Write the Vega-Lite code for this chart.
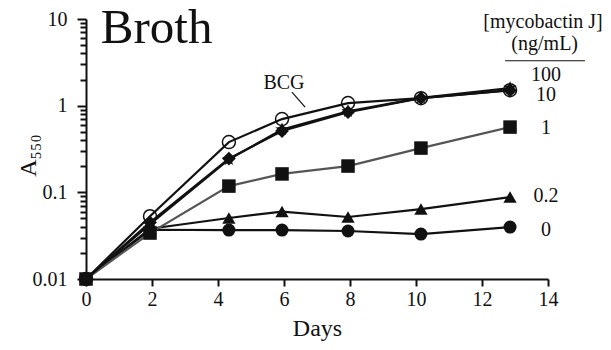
{
  "$schema": "https://vega.github.io/schema/vega-lite/v6.json",
  "width": 462,
  "height": 260,
  "autosize": "none",
  "padding": {"left": 86, "top": 19, "right": 63, "bottom": 71},
  "background": "white",
  "config": {"view": {"stroke": null}, "font": "Liberation Serif", "text": {"font": "Liberation Serif"}},
  "datasets": {
    "series": [
      {"series": "0", "day": 0, "value": 0.01},
      {"series": "0", "day": 1.94, "value": 0.037},
      {"series": "0", "day": 4.33, "value": 0.0367},
      {"series": "0", "day": 5.94, "value": 0.0367},
      {"series": "0", "day": 7.94, "value": 0.0358},
      {"series": "0", "day": 10.15, "value": 0.033},
      {"series": "0", "day": 12.85, "value": 0.0397},
      {"series": "0.2", "day": 0, "value": 0.01},
      {"series": "0.2", "day": 1.94, "value": 0.038},
      {"series": "0.2", "day": 4.33, "value": 0.0506},
      {"series": "0.2", "day": 5.94, "value": 0.06},
      {"series": "0.2", "day": 7.94, "value": 0.0519},
      {"series": "0.2", "day": 10.15, "value": 0.0641},
      {"series": "0.2", "day": 12.85, "value": 0.0883},
      {"series": "1", "day": 0, "value": 0.01},
      {"series": "1", "day": 1.94, "value": 0.0339},
      {"series": "1", "day": 4.33, "value": 0.118},
      {"series": "1", "day": 5.94, "value": 0.163},
      {"series": "1", "day": 7.94, "value": 0.201},
      {"series": "1", "day": 10.15, "value": 0.324},
      {"series": "1", "day": 12.85, "value": 0.566},
      {"series": "10", "day": 0, "value": 0.01},
      {"series": "10", "day": 1.94, "value": 0.045},
      {"series": "10", "day": 4.33, "value": 0.245},
      {"series": "10", "day": 5.94, "value": 0.51},
      {"series": "10", "day": 7.94, "value": 0.84},
      {"series": "10", "day": 10.15, "value": 1.22},
      {"series": "10", "day": 12.85, "value": 1.5},
      {"series": "100", "day": 0, "value": 0.01},
      {"series": "100", "day": 1.94, "value": 0.043},
      {"series": "100", "day": 4.33, "value": 0.24},
      {"series": "100", "day": 5.94, "value": 0.53},
      {"series": "100", "day": 7.94, "value": 0.86},
      {"series": "100", "day": 10.15, "value": 1.23},
      {"series": "100", "day": 12.85, "value": 1.6},
      {"series": "BCG", "day": 0, "value": 0.01},
      {"series": "BCG", "day": 1.94, "value": 0.053},
      {"series": "BCG", "day": 4.33, "value": 0.38},
      {"series": "BCG", "day": 5.94, "value": 0.7},
      {"series": "BCG", "day": 7.94, "value": 1.07},
      {"series": "BCG", "day": 10.15, "value": 1.22},
      {"series": "BCG", "day": 12.85, "value": 1.51}
    ],
    "labels": [
      {"x": 13.94, "y": 2.25, "text": "100"},
      {"x": 13.94, "y": 1.33, "text": "10"},
      {"x": 13.94, "y": 0.552, "text": "1"},
      {"x": 13.94, "y": 0.0906, "text": "0.2"},
      {"x": 13.94, "y": 0.0367, "text": "0"},
      {"x": 13.85, "y": 9.2, "text": "[mycobactin J]"},
      {"x": 13.9, "y": 5.13, "text": "(ng/mL)"},
      {"x": 6.0, "y": 1.82, "text": "BCG"}
    ],
    "title": [{"x": 0.45, "y": 5.27, "text": "Broth"}],
    "rules": [
      {"x": 12.7, "x2": 15.12, "y": 3.3, "y2": 3.3},
      {"x": 6.24, "x2": 6.64, "y": 1.43, "y2": 0.964}
    ]
  },
  "layer": [
    {
      "data": {"name": "series"},
      "mark": {"type": "line", "strokeWidth": 2.2},
      "encoding": {
        "x": {
          "field": "day", "type": "quantitative",
          "scale": {"domain": [0, 14], "nice": false, "zero": false},
          "axis": {
            "values": [0,1,2,3,4,5,6,7,8,9,10,11,12,13,14],
            "labelExpr": "datum.value % 2 == 0 ? datum.label : ''",
            "labelFlush": false,
            "grid": false,
            "tickSize": 7, "tickWidth": 2, "tickColor": "#111",
            "domainWidth": 2, "domainColor": "#111",
            "labelFont": "Liberation Serif", "labelFontSize": 20, "labelColor": "#111", "labelPadding": 3,
            "title": "Days", "titleFont": "Liberation Serif", "titleFontSize": 24, "titleFontWeight": "normal", "titleColor": "#111", "titlePadding": 7
          }
        },
        "y": {
          "field": "value", "type": "quantitative",
          "scale": {"type": "log", "domain": [0.01, 10], "nice": false},
          "axis": {
            "values": [0.01,0.02,0.03,0.04,0.05,0.06,0.07,0.08,0.09,0.1,0.2,0.3,0.4,0.5,0.6,0.7,0.8,0.9,1,2,3,4,5,6,7,8,9,10],
            "labelExpr": "datum.value == 10 ? '10' : datum.value == 1 ? '1' : datum.value == 0.1 ? '0.1' : datum.value == 0.01 ? '0.01' : ''",
            "labelFlush": false,
            "grid": false,
            "tickSize": {"condition": {"test": "datum.value == 10 || datum.value == 1 || datum.value == 0.1 || datum.value == 0.01", "value": 9}, "value": 6},
            "tickWidth": 2, "tickColor": "#111",
            "domainWidth": 2, "domainColor": "#111",
            "labelFont": "Liberation Serif", "labelFontSize": 20, "labelColor": "#111", "labelPadding": 10,
            "title": "A₅₅₀", "titleFont": "Liberation Serif", "titleFontSize": 24, "titleFontWeight": "normal", "titleColor": "#111",
            "titleX": -58, "titleY": 136, "titleBaseline": "middle", "titleAngle": 270
          }
        },
        "color": {
          "field": "series", "type": "nominal",
          "scale": {"domain": ["0", "0.2", "1", "10", "100", "BCG"], "range": ["#111", "#111", "#555", "#111", "#111", "#111"]},
          "legend": null
        }
      }
    },
    {
      "data": {"name": "series"},
      "transform": [{"filter": "datum.series != 'BCG'"}],
      "mark": {"type": "point", "filled": true, "opacity": 1, "color": "#111"},
      "encoding": {
        "x": {"field": "day", "type": "quantitative"},
        "y": {"field": "value", "type": "quantitative"},
        "shape": {
          "field": "series", "type": "nominal",
          "scale": {"domain": ["0", "0.2", "1", "10", "100"], "range": ["circle", "triangle-up", "square", "diamond", "M0,-1L0.25,-0.35L0.95,-0.31L0.4,0.12L0.59,0.81L0,0.4L-0.59,0.81L-0.4,0.12L-0.95,-0.31L-0.25,-0.35Z"]},
          "legend": null
        },
        "size": {
          "field": "series", "type": "nominal",
          "scale": {"domain": ["0", "0.2", "1", "10", "100"], "range": [169, 196, 196, 150, 200]},
          "legend": null
        }
      }
    },
    {
      "data": {"name": "series"},
      "transform": [{"filter": "datum.series == 'BCG'"}],
      "mark": {"type": "point", "shape": "circle", "filled": false, "size": 169, "strokeWidth": 1.5, "color": "#111", "opacity": 1},
      "encoding": {
        "x": {"field": "day", "type": "quantitative"},
        "y": {"field": "value", "type": "quantitative"}
      }
    },
    {
      "data": {"name": "labels"},
      "mark": {"type": "text", "font": "Liberation Serif", "fontSize": 20, "color": "#111", "align": "center", "baseline": "middle"},
      "encoding": {
        "x": {"field": "x", "type": "quantitative"},
        "y": {"field": "y", "type": "quantitative"},
        "text": {"field": "text"}
      }
    },
    {
      "data": {"name": "title"},
      "mark": {"type": "text", "font": "Liberation Serif", "fontSize": 49, "color": "#111", "align": "left", "baseline": "alphabetic"},
      "encoding": {
        "x": {"field": "x", "type": "quantitative"},
        "y": {"field": "y", "type": "quantitative"},
        "text": {"field": "text"}
      }
    },
    {
      "data": {"name": "rules"},
      "mark": {"type": "rule", "color": "#111", "strokeWidth": 1.2},
      "encoding": {
        "x": {"field": "x", "type": "quantitative"},
        "x2": {"field": "x2"},
        "y": {"field": "y", "type": "quantitative"},
        "y2": {"field": "y2"}
      }
    }
  ]
}
